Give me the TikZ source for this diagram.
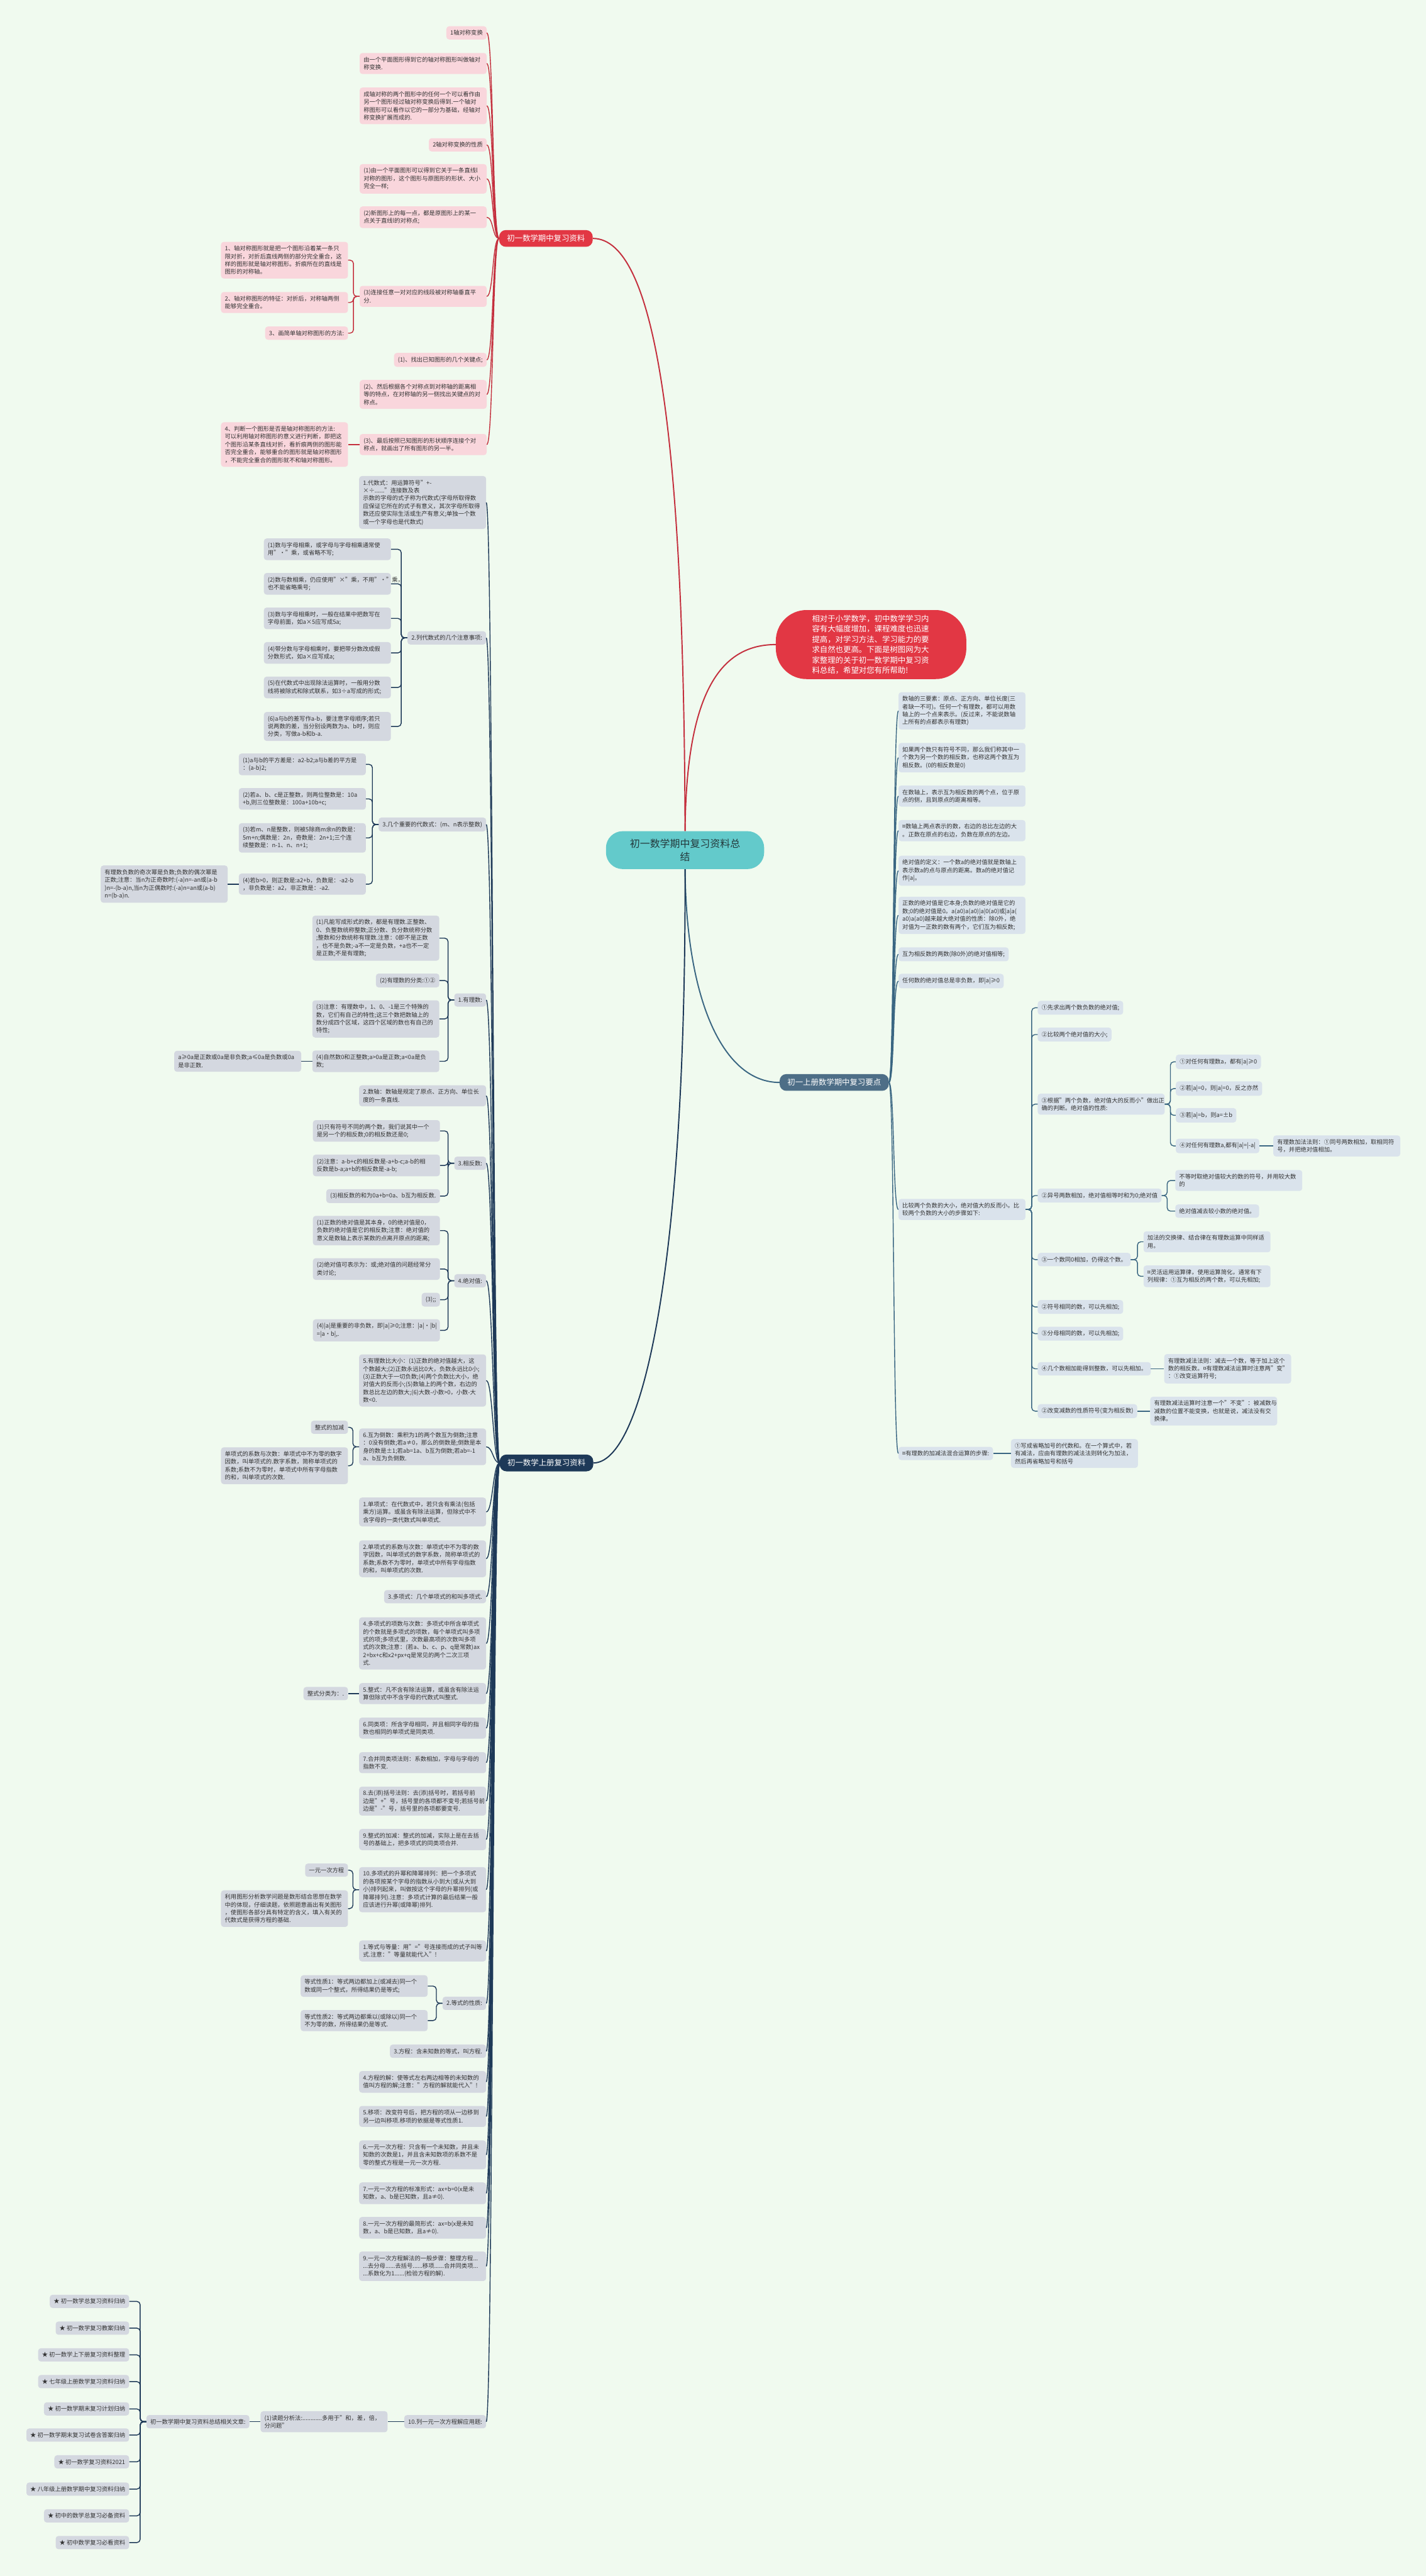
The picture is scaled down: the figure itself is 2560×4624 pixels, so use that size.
\documentclass[tikz,border=0pt]{standalone}
\usepackage{fontspec}
\setmainfont{Noto Sans CJK SC}
\definecolor{bgc}{HTML}{F0FAEF}
\definecolor{pinkf}{HTML}{F9D6DC}
\definecolor{redm}{HTML}{E23744}
\definecolor{redl}{HTML}{C42F3D}
\definecolor{navyf}{HTML}{D4D8E0}
\definecolor{navym}{HTML}{1E3958}
\definecolor{bluef}{HTML}{DAE3EC}
\definecolor{bluem}{HTML}{4E6E87}
\definecolor{bluel}{HTML}{3A6682}
\definecolor{cent}{HTML}{63CACB}
\definecolor{centt}{HTML}{24393C}
\definecolor{txt}{HTML}{333333}
\newcommand{\lfs}{\fontsize{10.5}{14}\selectfont}
\tikzset{
  leaf/.style={rounded corners=5pt, inner xsep=7pt, inner ysep=7pt, align=left, font=\lfs, text=txt},
  pk/.style={leaf, fill=pinkf},
  nv/.style={leaf, fill=navyf},
  bl/.style={leaf, fill=bluef},
  ml/.style={text width=214pt},
  lr/.style={anchor=east},
  ll/.style={anchor=west},
  rline/.style={draw=redl, line width=1.6pt},
  nline/.style={draw=navym, line width=1.6pt},
  bline/.style={draw=bluel, line width=1.6pt},
  brk/.style={rounded corners=6pt},
  bigbox/.style={text=white, font=\fontsize{14}{18}\selectfont, inner xsep=14pt, inner ysep=8.5pt, rounded corners=12pt},
}
\begin{document}
\begin{tikzpicture}[x=1pt,y=-1pt]
\fill[bgc] (0,0) rectangle (2560,4624);
\useasboundingbox (0,0) rectangle (2560,4624);

% ---------- centre and description ----------
\node[fill=cent, text=centt, font=\fontsize{18}{24}\selectfont, align=center, minimum width=284pt, minimum height=68pt, rounded corners=30pt] (ct) at (1230,1526) {初一数学期中复习资料总\\结};
\node[fill=redm, text=white, font=\fontsize{14}{18.5}\selectfont, align=left, text width=212pt, inner xsep=65pt, inner ysep=9pt, rounded corners=55pt] (ds) at (1564,1157) {相对于小学数学，初中数学学习内\\容有大幅度增加，课程难度也迅速\\提高，对学习方法、学习能力的要\\求自然也更高。下面是树图网为大\\家整理的关于初一数学期中复习资\\料总结，希望对您有所帮助!};

% ---------- branch nodes ----------
\node[bigbox, fill=redm, anchor=west] (rn) at (896,428) {初一数学期中复习资料};
\node[bigbox, fill=bluem, anchor=east] (rb) at (1596,1943) {初一上册数学期中复习要点};
\node[bigbox, fill=navym, anchor=west] (nb) at (897,2626) {初一数学上册复习资料};

% ---------- red branch ----------
\node[pk,lr] (R1) at (874,59) {1轴对称变换};
\node[pk,ml,lr] (R2) at (874,114) {由一个平面图形得到它的轴对称图形叫做轴对\\称变换.};
\node[pk,ml,lr] (R3) at (874,190) {成轴对称的两个图形中的任何一个可以看作由\\另一个图形经过轴对称变换后得到.一个轴对\\称图形可以看作以它的一部分为基础，经轴对\\称变换扩展而成的.};
\node[pk,lr] (R4) at (874,260) {2轴对称变换的性质};
\node[pk,ml,lr] (R5) at (874,321) {(1)由一个平面图形可以得到它关于一条直线l\\对称的图形，这个图形与原图形的形状、大小\\完全一样;};
\node[pk,ml,lr] (R6) at (874,390) {(2)新图形上的每一点，都是原图形上的某一\\点关于直线l的对称点;};
\node[pk,ml,lr] (R7) at (874,532) {(3)连接任意一对对应的线段被对称轴垂直平\\分.};
\node[pk,lr] (R8) at (874,646) {(1)、找出已知图形的几个关键点;};
\node[pk,ml,lr] (R9) at (874,708) {(2)、然后根据各个对称点到对称轴的距离相\\等的特点，在对称轴的另一侧找出关键点的对\\称点。};
\node[pk,ml,lr] (R10) at (874,798) {(3)、最后按照已知图形的形状顺序连接个对\\称点，就画出了所有图形的另一半。};
\node[pk,ml,lr] (R7a) at (625,467) {1、轴对称图形就是把一个图形沿着某一条只\\限对折，对折后直线两侧的部分完全重合，这\\样的图形就是轴对称图形。折痕所在的直线是\\图形的对称轴。};
\node[pk,ml,lr] (R7b) at (625,543) {2、轴对称图形的特征：对折后，对称轴两侧\\能够完全重合。};
\node[pk,lr] (R7c) at (625,598) {3、画简单轴对称图形的方法:};
\node[pk,ml,lr] (R10a) at (625,798) {4、判断一个图形是否是轴对称图形的方法:\\可以利用轴对称图形的意义进行判断，即把这\\个图形沿某条直线对折，看折痕两侧的图形能\\否完全重合，能够重合的图形就是轴对称图形\\，不能完全重合的图形就不和轴对称图形。};

% ---------- navy branch ----------
\node[nv,ml,lr] (N1) at (873,902) {1.代数式：用运算符号"+-×÷......"连接数及表\\示数的字母的式子称为代数式(字母所取得数\\应保证它所在的式子有意义，其次字母所取得\\数还应使实际生活或生产有意义;单独一个数\\或一个字母也是代数式)};
\node[nv,lr] (N2) at (873,1145) {2.列代数式的几个注意事项:};
\node[nv,ml,lr] (N2a) at (702,986) {(1)数与字母相乘，或字母与字母相乘通常使\\用"·"乘，或省略不写;};
\node[nv,ml,lr] (N2b) at (702,1048) {(2)数与数相乘，仍应使用"×"乘，不用"·"乘，\\也不能省略乘号;};
\node[nv,ml,lr] (N2c) at (702,1110) {(3)数与字母相乘时，一般在结果中把数写在\\字母前面，如a×5应写成5a;};
\node[nv,ml,lr] (N2d) at (702,1172) {(4)带分数与字母相乘时，要把带分数改成假\\分数形式，如a×应写成a;};
\node[nv,ml,lr] (N2e) at (702,1234) {(5)在代数式中出现除法运算时，一般用分数\\线将被除式和除式联系，如3÷a写成的形式;};
\node[nv,ml,lr] (N2f) at (702,1304) {(6)a与b的差写作a-b，要注意字母顺序;若只\\说两数的差，当分别设两数为a、b时，则应\\分类，写做a-b和b-a.};
\node[nv,lr] (N3) at (873,1480) {3.几个重要的代数式：(m、n表示整数)};
\node[nv,ml,lr] (N3a) at (657,1372) {(1)a与b的平方差是：a2-b2;a与b差的平方是\\：(a-b)2;};
\node[nv,ml,lr] (N3b) at (657,1434) {(2)若a、b、c是正整数，则两位整数是：10a\\+b,则三位整数是：100a+10b+c;};
\node[nv,ml,lr] (N3c) at (657,1504) {(3)若m、n是整数，则被5除商m余n的数是：\\5m+n;偶数是：2n，奇数是：2n+1;三个连\\续整数是：n-1、n、n+1;};
\node[nv,ml,lr] (N3d) at (657,1587) {(4)若b>0，则正数是:a2+b，负数是：-a2-b\\，非负数是：a2，非正数是：-a2.};
\node[nv,ml,lr] (N3d1) at (409,1587) {有理数负数的奇次幂是负数;负数的偶次幂是\\正数;注意：当n为正奇数时:(-a)n=-an或(a-b\\)n=-(b-a)n,当n为正偶数时:(-a)n=an或(a-b)\\n=(b-a)n.};
\node[nv,lr] (N4) at (873,1795) {1.有理数:};
\node[nv,ml,lr] (N4a) at (789,1684) {(1)凡能写成形式的数，都是有理数.正整数、\\0、负整数统称整数;正分数、负分数统称分数\\;整数和分数统称有理数.注意：0即不是正数\\，也不是负数;-a不一定是负数，+a也不一定\\是正数;不是有理数;};
\node[nv,lr] (N4b) at (789,1760) {(2)有理数的分类:①②};
\node[nv,ml,lr] (N4c) at (789,1829) {(3)注意：有理数中，1、0、-1是三个特殊的\\数，它们有自己的特性;这三个数把数轴上的\\数分成四个区域，这四个区域的数也有自己的\\特性;};
\node[nv,ml,lr] (N4d) at (789,1905) {(4)自然数0和正整数;a>0a是正数;a<0a是负\\数;};
\node[nv,ml,lr] (N4d1) at (541,1905) {a≥0a是正数或0a是非负数;a≤0a是负数或0a\\是非正数.};
\node[nv,ml,lr] (N5) at (873,1967) {2.数轴：数轴是规定了原点、正方向、单位长\\度的一条直线.};
\node[nv,lr] (N6) at (873,2088) {3.相反数:};
\node[nv,ml,lr] (N6a) at (790,2030) {(1)只有符号不同的两个数，我们说其中一个\\是另一个的相反数;0的相反数还是0;};
\node[nv,ml,lr] (N6b) at (790,2092) {(2)注意：a-b+c的相反数是-a+b-c;a-b的相\\反数是b-a;a+b的相反数是-a-b;};
\node[nv,lr] (N6c) at (790,2147) {(3)相反数的和为0a+b=0a、b互为相反数.};
\node[nv,lr] (N7) at (873,2299) {4.绝对值:};
\node[nv,ml,lr] (N7a) at (790,2209) {(1)正数的绝对值是其本身，0的绝对值是0，\\负数的绝对值是它的相反数;注意：绝对值的\\意义是数轴上表示某数的点离开原点的距离;};
\node[nv,ml,lr] (N7b) at (790,2278) {(2)绝对值可表示为：或;绝对值的问题经常分\\类讨论;};
\node[nv,lr] (N7c) at (790,2333) {(3);;};
\node[nv,ml,lr] (N7d) at (790,2388) {(4)|a|是重要的非负数，即|a|≥0;注意：|a|·|b|\\=|a·b|,.};
\node[nv,ml,lr] (N8) at (873,2478) {5.有理数比大小：(1)正数的绝对值越大，这\\个数越大;(2)正数永远比0大，负数永远比0小;\\(3)正数大于一切负数;(4)两个负数比大小，绝\\对值大的反而小;(5)数轴上的两个数，右边的\\数总比左边的数大;(6)大数-小数>0，小数-大\\数<0.};
\node[nv,ml,lr] (N9) at (873,2597) {6.互为倒数：乘积为1的两个数互为倒数;注意\\：0没有倒数;若a≠0，那么的倒数是;倒数是本\\身的数是±1;若ab=1a、b互为倒数;若ab=-1\\a、b互为负倒数.};
\node[nv,lr] (N9a) at (625,2562) {整式的加减};
\node[nv,ml,lr] (N9b) at (625,2631) {单项式的系数与次数：单项式中不为零的数字\\因数，叫单项式的.数字系数，简称单项式的\\系数;系数不为零时，单项式中所有字母指数\\的和，叫单项式的次数.};
\node[nv,ml,lr] (N10) at (873,2714) {1.单项式：在代数式中，若只含有乘法(包括\\乘方)运算。或虽含有除法运算，但除式中不\\含字母的一类代数式叫单项式.};
\node[nv,ml,lr] (N11) at (873,2798) {2.单项式的系数与次数：单项式中不为零的数\\字因数，叫单项式的数字系数，简称单项式的\\系数;系数不为零时，单项式中所有字母指数\\的和，叫单项式的次数.};
\node[nv,lr] (N12) at (873,2866) {3.多项式：几个单项式的和叫多项式.};
\node[nv,ml,lr] (N13) at (873,2950) {4.多项式的项数与次数：多项式中所含单项式\\的个数就是多项式的项数，每个单项式叫多项\\式的项;多项式里，次数最高项的次数叫多项\\式的次数;注意：(若a、b、c、p、q是常数)ax\\2+bx+c和x2+px+q是常见的两个二次三项\\式.};
\node[nv,ml,lr] (N14) at (873,3040) {5.整式：凡不含有除法运算，或虽含有除法运\\算但除式中不含字母的代数式叫整式.};
\node[nv,lr] (N14a) at (625,3040) {整式分类为：.};
\node[nv,ml,lr] (N15) at (873,3102) {6.同类项：所含字母相同，并且相同字母的指\\数也相同的单项式是同类项.};
\node[nv,ml,lr] (N16) at (873,3164) {7.合并同类项法则：系数相加，字母与字母的\\指数不变.};
\node[nv,ml,lr] (N17) at (873,3233) {8.去(添)括号法则：去(添)括号时，若括号前\\边是"+"号，括号里的各项都不变号;若括号前\\边是"-"号，括号里的各项都要变号.};
\node[nv,ml,lr] (N18) at (873,3302) {9.整式的加减：整式的加减，实际上是在去括\\号的基础上，把多项式的同类项合并.};
\node[nv,ml,lr] (N19) at (873,3392) {10.多项式的升幂和降幂排列：把一个多项式\\的各项按某个字母的指数从小到大(或从大到\\小)排列起来，叫做按这个字母的升幂排列(或\\降幂排列).注意：多项式计算的最后结果一般\\应该进行升幂(或降幂)排列.};
\node[nv,lr] (N19a) at (625,3357) {一元一次方程};
\node[nv,ml,lr] (N19b) at (625,3426) {利用图形分析数学问题是数形结合思想在数学\\中的体现，仔细读题，依照题意画出有关图形\\，使图形各部分具有特定的含义，填入有关的\\代数式是获得方程的基础.};
\node[nv,ml,lr] (N20) at (873,3502) {1.等式与等量：用"="号连接而成的式子叫等\\式.注意："等量就能代入"!};
\node[nv,lr] (N21) at (873,3596) {2.等式的性质:};
\node[nv,ml,lr] (N21a) at (768,3565) {等式性质1：等式两边都加上(或减去)同一个\\数或同一个整式，所得结果仍是等式;};
\node[nv,ml,lr] (N21b) at (768,3627) {等式性质2：等式两边都乘以(或除以)同一个\\不为零的数，所得结果仍是等式.};
\node[nv,lr] (N22) at (873,3682) {3.方程：含未知数的等式，叫方程.};
\node[nv,ml,lr] (N23) at (873,3737) {4.方程的解：使等式左右两边相等的未知数的\\值叫方程的解;注意："方程的解就能代入"!};
\node[nv,ml,lr] (N24) at (873,3799) {5.移项：改变符号后，把方程的项从一边移到\\另一边叫移项.移项的依据是等式性质1.};
\node[nv,ml,lr] (N25) at (873,3868) {6.一元一次方程：只含有一个未知数，并且未\\知数的次数是1，并且含未知数项的系数不是\\零的整式方程是一元一次方程.};
\node[nv,ml,lr] (N26) at (873,3937) {7.一元一次方程的标准形式：ax+b=0(x是未\\知数，a、b是已知数，且a≠0).};
\node[nv,ml,lr] (N27) at (873,3999) {8.一元一次方程的最简形式：ax=b(x是未知\\数，a、b是已知数，且a≠0).};
\node[nv,ml,lr] (N28) at (873,4068) {9.一元一次方程解法的一般步骤：整理方程...\\...去分母......去括号......移项......合并同类项...\\...系数化为1......(检验方程的解).};
\node[nv,lr] (N29) at (873,4347) {10.列一元一次方程解应用题:};
\node[nv,ml,lr] (N29a) at (696,4347) {(1)读题分析法:............多用于"和，差，倍，\\分问题"};
\node[nv,lr] (N29b) at (448,4347) {初一数学期中复习资料总结相关文章:};
\node[nv,lr] (S1) at (232,4131) {★ 初一数学总复习资料归纳};
\node[nv,lr] (S2) at (232,4179) {★ 初一数学复习教案归纳};
\node[nv,lr] (S3) at (232,4227) {★ 初一数学上下册复习资料整理};
\node[nv,lr] (S4) at (232,4275) {★ 七年级上册数学复习资料归纳};
\node[nv,lr] (S5) at (232,4324) {★ 初一数学期末复习计划归纳};
\node[nv,lr] (S6) at (232,4371) {★ 初一数学期末复习试卷含答案归纳};
\node[nv,lr] (S7) at (232,4419) {★ 初一数学复习资料2021};
\node[nv,lr] (S8) at (232,4468) {★ 八年级上册数学期中复习资料归纳};
\node[nv,lr] (S9) at (232,4516) {★ 初中的数学总复习必备资料};
\node[nv,lr] (S10) at (232,4564) {★ 初中数学复习必看资料};

% ---------- right (blue) branch ----------
\node[bl,ml,ll] (B1) at (1613,1276) {数轴的三要素：原点、正方向、单位长度(三\\者缺一不可)。任何一个有理数，都可以用数\\轴上的一个点来表示。(反过来，不能说数轴\\上所有的点都表示有理数)};
\node[bl,ml,ll] (B2) at (1613,1360) {如果两个数只有符号不同，那么我们称其中一\\个数为另一个数的相反数，也称这两个数互为\\相反数。(0的相反数是0)};
\node[bl,ml,ll] (B3) at (1613,1429) {在数轴上，表示互为相反数的两个点，位于原\\点的侧，且到原点的距离相等。};
\node[bl,ml,ll] (B4) at (1613,1491) {¤数轴上两点表示的数，右边的总比左边的大\\。正数在原点的右边，负数在原点的左边。};
\node[bl,ml,ll] (B5) at (1613,1563) {绝对值的定义：一个数a的绝对值就是数轴上\\表示数a的点与原点的距离。数a的绝对值记\\作|a|。};
\node[bl,ml,ll] (B6) at (1613,1643) {正数的绝对值是它本身;负数的绝对值是它的\\数;0的绝对值是0。a(a0)a(a0)|a|0(a0)或|a|a(\\a0)a(a0)越来越大绝对值的性质：除0外，绝\\对值为一正数的数有两个，它们互为相反数;};
\node[bl,ll] (B7) at (1613,1713) {互为相反数的两数(除0外)的绝对值相等;};
\node[bl,ll] (B8) at (1613,1761) {任何数的绝对值总是非负数，即|a|≥0};
\node[bl,ml,ll] (B9) at (1613,2171) {比较两个负数的大小，绝对值大的反而小。比\\较两个负数的大小的步骤如下:};
\node[bl,ll] (B10) at (1613,2609) {¤有理数的加减法混合运算的步骤:};
\node[bl,ll] (C1) at (1863,1809) {①先求出两个数负数的绝对值;};
\node[bl,ll] (C2) at (1863,1857) {②比较两个绝对值的大小;};
\node[bl,ml,ll] (C3) at (1863,1982) {③根据"两个负数，绝对值大的反而小"做出正\\确的判断。绝对值的性质:};
\node[bl,ll] (C4) at (1863,2146) {②异号两数相加，绝对值相等时和为0;绝对值};
\node[bl,ll] (C5) at (1863,2261) {③一个数同0相加，仍得这个数。};
\node[bl,ll] (C6) at (1863,2346) {②符号相同的数，可以先相加;};
\node[bl,ll] (C7) at (1863,2394) {③分母相同的数，可以先相加;};
\node[bl,ll] (C8) at (1863,2457) {④几个数相加能得到整数，可以先相加。};
\node[bl,ll] (C9) at (1863,2533) {②改变减数的性质符号(变为相反数)};
\node[bl,ll] (D1) at (2111,1906) {①对任何有理数a，都有|a|≥0};
\node[bl,ll] (D2) at (2111,1954) {②若|a|=0，则|a|=0，反之亦然};
\node[bl,ll] (D3) at (2111,2002) {③若|a|=b，则a=±b};
\node[bl,ll] (D4) at (2111,2057) {④对任何有理数a,都有|a|=|-a|};
\node[bl,ml,ll] (D4a) at (2286,2057) {有理数加法法则：①同号两数相加，取相同符\\号，并把绝对值相加。};
\node[bl,ml,ll] (E1) at (2110,2119) {不等时取绝对值较大的数的符号，并用较大数\\的};
\node[bl,ll] (E2) at (2110,2174) {绝对值减去较小数的绝对值。};
\node[bl,ml,ll] (F1) at (2053,2229) {加法的交换律、结合律在有理数运算中同样适\\用。};
\node[bl,ml,ll] (F2) at (2053,2291) {¤灵活运用运算律，使用运算简化，通常有下\\列规律：①互为相反的两个数，可以先相加;};
\node[bl,ml,ll] (G1) at (2090,2457) {有理数减法法则：减去一个数，等于加上这个\\数的相反数。¤有理数减法运算时注意两"变"\\：①改变运算符号;};
\node[bl,ml,ll] (H1) at (2065,2533) {有理数减法运算时注意一个"不变"：被减数与\\减数的位置不能变换，也就是说，减法没有交\\换律。};
\node[bl,ml,ll] (I1) at (1815,2609) {①写成省略加号的代数和。在一个算式中，若\\有减法，应由有理数的减法法则转化为加法，\\然后再省略加号和括号};

% ---------- main connectors ----------
\draw[draw=redl, line width=2.2pt] (ct.north) .. controls (1228,800) and (1180,428) .. (rn.east);
\draw[draw=redl, line width=2.2pt] (ct.north) .. controls (1232,1250) and (1290,1157) .. (ds.west);
\draw[draw=bluel, line width=2.2pt] (ct.south) .. controls (1232,1800) and (1300,1943) .. (rb.west);
\draw[draw=navym, line width=2.2pt] (ct.south) .. controls (1232,2300) and (1150,2626) .. (nb.east);

% ---------- red connectors ----------
\foreach \c in {R1,R2,R3,R4,R5,R6,R7,R8,R9,R10}
  \draw[rline] (rn.west) .. controls +(-12,0) and +(12,0) .. (\c.east);
\foreach \c in {R7a,R7b,R7c}
  \draw[rline,brk] (R7.west) -- ++(-11,0) |- (\c.east);
\draw[rline] (R10.west) -- (R10a.east);

% ---------- navy connectors ----------
\foreach \c in {N1,N2,N3,N4,N5,N6,N7,N8,N9,N10,N11,N12,N13,N14,N15,N16,N17,N18,N19,N20,N21,N22,N23,N24,N25,N26,N27,N28,N29}
  \draw[nline] (nb.west) .. controls +(-12,0) and +(12,0) .. (\c.east);
\foreach \c in {N2a,N2b,N2c,N2d,N2e,N2f}
  \draw[nline,brk] (N2.west) -- ++(-11,0) |- (\c.east);
\foreach \c in {N3a,N3b,N3c,N3d}
  \draw[nline,brk] (N3.west) -- ++(-11,0) |- (\c.east);
\draw[nline] (N3d.west) -- (N3d1.east);
\foreach \c in {N4a,N4b,N4c,N4d}
  \draw[nline,brk] (N4.west) -- ++(-11,0) |- (\c.east);
\draw[nline] (N4d.west) -- (N4d1.east);
\foreach \c in {N6a,N6b,N6c}
  \draw[nline,brk] (N6.west) -- ++(-11,0) |- (\c.east);
\foreach \c in {N7a,N7b,N7c,N7d}
  \draw[nline,brk] (N7.west) -- ++(-11,0) |- (\c.east);
\foreach \c in {N9a,N9b}
  \draw[nline,brk] (N9.west) -- ++(-11,0) |- (\c.east);
\draw[nline] (N14.west) -- (N14a.east);
\foreach \c in {N19a,N19b}
  \draw[nline,brk] (N19.west) -- ++(-11,0) |- (\c.east);
\foreach \c in {N21a,N21b}
  \draw[nline,brk] (N21.west) -- ++(-11,0) |- (\c.east);
\draw[nline] (N29.west) -- (N29a.east);
\draw[nline] (N29a.west) -- (N29b.east);
\foreach \c in {S1,S2,S3,S4,S5,S6,S7,S8,S9,S10}
  \draw[nline,brk] (N29b.west) -- ++(-11,0) |- (\c.east);

% ---------- blue connectors ----------
\foreach \c in {B1,B2,B3,B4,B5,B6,B7,B8,B9,B10}
  \draw[bline] (rb.east) .. controls +(10,0) and +(-10,0) .. (\c.west);
\foreach \c in {C1,C2,C3,C4,C5,C6,C7,C8,C9}
  \draw[bline,brk] (B9.east) -- ++(11,0) |- (\c.west);
\foreach \c in {D1,D2,D3,D4}
  \draw[bline,brk] (C3.east) -- ++(10,0) |- (\c.west);
\draw[bline] (D4.east) -- (D4a.west);
\foreach \c in {E1,E2}
  \draw[bline,brk] (C4.east) -- ++(10,0) |- (\c.west);
\foreach \c in {F1,F2}
  \draw[bline,brk] (C5.east) -- ++(12,0) |- (\c.west);
\draw[bline] (C8.east) -- (G1.west);
\draw[bline] (C9.east) -- (H1.west);
\draw[bline] (B10.east) -- (I1.west);
\end{tikzpicture}
\end{document}
